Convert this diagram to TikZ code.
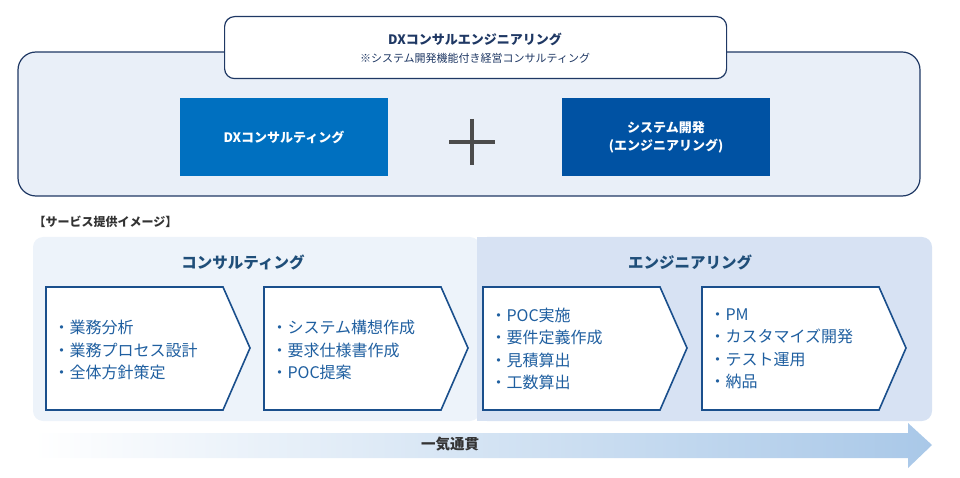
\documentclass[tikz,border=0pt]{standalone}
\usepackage{fontspec}
\setmainfont{Noto Sans CJK JP}
\definecolor{navy}{HTML}{1F3864}
\definecolor{lightbg}{HTML}{E9EFF8}
\definecolor{panelA}{HTML}{EDF3FA}
\definecolor{panelB}{HTML}{D7E2F3}
\definecolor{dxblue}{HTML}{0070C0}
\definecolor{sysblue}{HTML}{0052A3}
\definecolor{hdr}{HTML}{1F4E79}
\definecolor{txt}{HTML}{1F5FA0}
\definecolor{chev}{HTML}{1A4F8C}
\definecolor{arr}{HTML}{A9C8E8}
\tikzset{
  bluebox/.style={draw=none,text=white,font=\bfseries\fontsize{13}{18}\selectfont,align=center},
  chevtext/.style={text=txt,font=\fontsize{16}{22.5}\selectfont,align=left,anchor=west},
  hdrtext/.style={text=hdr,font=\bfseries\fontsize{15.5}{18}\selectfont},
}
\newcommand{\chevron}[2]{%
  \draw[chev,line width=1.6pt,fill=white] (#1,287) -- (#1+177,287) -- (#1+204,348) -- (#1+177,410) -- (#1,410) -- cycle;}
\begin{document}
\begin{tikzpicture}[x=1pt,y=-1pt]
\useasboundingbox (0,0) rectangle (960,478);
% top
\draw[navy,line width=1.2pt,fill=lightbg,rounded corners=18pt] (18,52) rectangle (920,196);
\node[draw=navy,line width=1.2pt,fill=white,rounded corners=10pt,minimum width=502pt,minimum height=62pt,anchor=north west] (lbl) at (224,16) {};
\node[font=\bfseries\fontsize{13}{15}\selectfont,text=navy] (t1) at (475,39) {DXコンサルエンジニアリング};
\node[font=\fontsize{11}{13}\selectfont,text=navy] (t2) at (475,58) {※システム開発機能付き経営コンサルティング};
\node[bluebox,fill=dxblue,minimum width=208pt,minimum height=78pt] (dx) at (284,137) {DXコンサルティング};
\node[bluebox,fill=sysblue,minimum width=208pt,minimum height=78pt] (sys) at (666,137) {システム開発\\(エンジニアリング)};
\draw[black!70,line width=4pt] (449,142) -- (495,142) (472,119) -- (472,165);
% service
\node[anchor=west,font=\bfseries\fontsize{12}{14}\selectfont,text=black!80] (svc) at (30,222) {【サービス提供イメージ】};
\fill[panelA,rounded corners=10pt] (33,237) rectangle (480,421);
\fill[panelB,rounded corners=10pt] (477,237) rectangle (932,421);
\fill[panelB] (477,237) rectangle (490,421);
\node[hdrtext] (h1) at (243,262) {コンサルティング};
\node[hdrtext] (h2) at (690,262) {エンジニアリング};
\chevron{46}{}\chevron{264}{}\chevron{483}{}\chevron{702}{}
\node[chevtext] (c1) at (50,350) {・業務分析\\・業務プロセス設計\\・全体方針策定};
\node[chevtext] (c2) at (268,350) {・システム構想作成\\・要求仕様書作成\\・POC提案};
\node[chevtext] (c3) at (487,349) {・POC実施\\・要件定義作成\\・見積算出\\・工数算出};
\node[chevtext] (c4) at (706,349) {・PM\\・カスタマイズ開発\\・テスト運用\\・納品};
% arrow
\shade[left color=white,right color=arr] (33,433) -- (908,433) -- (908,423) -- (932,445) -- (908,468) -- (908,458) -- (33,458) -- cycle;
\node[font=\bfseries\fontsize{14.5}{16}\selectfont,text=black!80] (flow) at (450,444) {一気通貫};
\end{tikzpicture}
\end{document}
